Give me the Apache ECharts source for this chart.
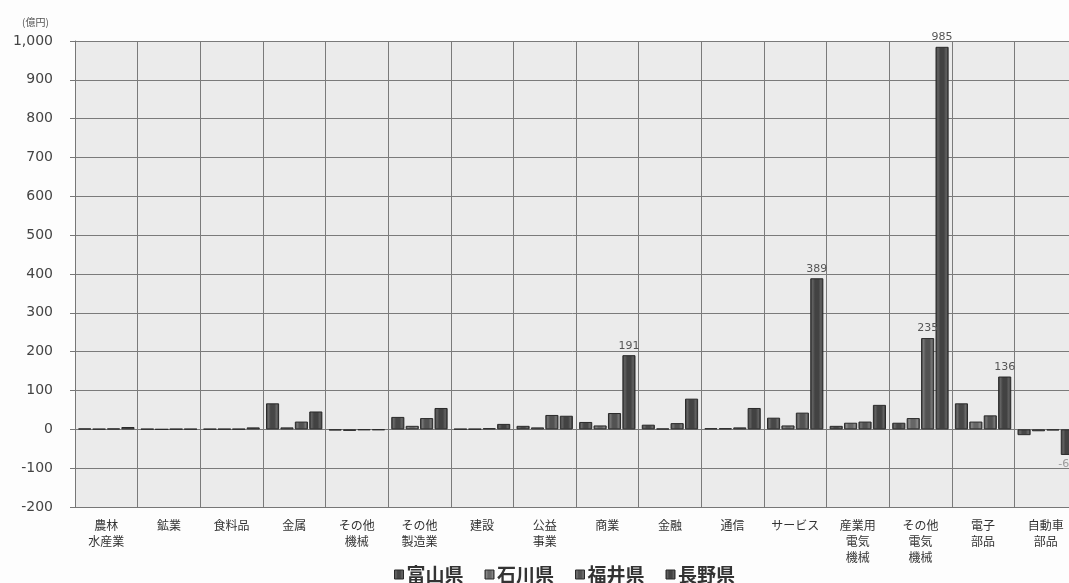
<!DOCTYPE html>
<html>
<head>
<meta charset="utf-8">
<script src="https://cdn.jsdelivr.net/npm/echarts@6/dist/echarts.min.js"></script>
<style>
  html, body { margin: 0; padding: 0; background: #fdfdfd; }
  #chart { width: 1069px; height: 583px; }
</style>
</head>
<body>
<div id="chart"></div>
<script>
// 業種別・県別の値（億円）
const categories = ['農林\n水産業', '鉱業', '食料品', '金属', 'その他\n機械', 'その他\n製造業', '建設', '公益\n事業', '商業', '金融', '通信', 'サービス', '産業用\n電気\n機械', 'その他\n電気\n機械', '電子\n部品', '自動車\n部品'];
const prefectures = ['富山県', '石川県', '福井県', '長野県'];
const toyama   = [2, 1, 1, 67, -3, 32, 1, 9, 19, 12, 3, 30, 9, 17, 67, -15];
const ishikawa = [1, 0, 1, 5, -4, 9, 1, 5, 10, 2, 3, 10, 17, 29, 20, -5];
const fukui    = [2, 1, 1, 20, -2, 29, 3, 37, 42, 16, 5, 43, 20, 235, 36, -3];
const nagano   = [6, 1, 5, 46, -2, 55, 14, 35, 191, 79, 55, 389, 63, 985, 136, -66];
// 値ラベルを表示する項目（カテゴリの添字）
const labeledFukui = [13];
const labeledNagano = [8, 11, 13, 14, 15];

const yTicks = { min: -200, max: 1000, interval: 100 };

const CJK = '"Noto Sans CJK JP", "Noto Sans", sans-serif';

function shade(edge, light, mid) {
  return {
    type: 'linear', x: 0, y: 0, x2: 1, y2: 0,
    colorStops: [
      { offset: 0, color: edge },
      { offset: 0.18, color: light },
      { offset: 0.36, color: mid },
      { offset: 0.64, color: mid },
      { offset: 0.82, color: light },
      { offset: 1, color: edge }
    ]
  };
}

const styles = [
  shade('#2f2f2f', '#6a6a6a', '#474747'),
  shade('#333333', '#8a8a8a', '#666666'),
  shade('#303030', '#767676', '#525252'),
  shade('#2c2c2c', '#626262', '#424242')
];

function withLabels(values, labeled) {
  return values.map((v, i) => {
    if (labeled.indexOf(i) < 0) return v;
    return {
      value: v,
      label: {
        show: true,
        position: v < 0 ? 'bottom' : 'top',
        color: v < 0 ? '#9a9a9a' : '#555',
        fontFamily: 'DejaVu Sans, sans-serif',
        fontSize: 11,
        distance: 4
      }
    };
  });
}

const seriesValues = [
  withLabels(toyama, []),
  withLabels(ishikawa, []),
  withLabels(fukui, labeledFukui),
  withLabels(nagano, labeledNagano)
];

const chart = echarts.init(document.getElementById('chart'), null, { renderer: 'canvas' });

chart.setOption({
  backgroundColor: '#fdfdfd',
  animation: false,
  title: {
    text: '(億円)',
    left: 17, top: 12,
    textStyle: { fontFamily: CJK, fontSize: 10, fontWeight: 'normal', color: '#555' }
  },
  legend: {
    data: prefectures.map((p, i) => ({ name: p, itemStyle: { color: styles[i], borderColor: '#2a2a2a', borderWidth: 1 } })),
    left: 389, top: 560,
    icon: 'rect',
    itemWidth: 9, itemHeight: 9,
    itemGap: 21,
    textStyle: { fontFamily: CJK, fontSize: 19, fontWeight: 'bold', color: '#333', padding: [0, 0, 0, -2] }
  },
  grid: {
    left: 75, top: 41, width: 1002, height: 466,
    outerBoundsMode: 'none',
    containLabel: false,
    show: true, backgroundColor: '#ebebeb', borderWidth: 0
  },
  xAxis: {
    type: 'category',
    data: categories,
    axisLine: { onZero: false, lineStyle: { color: '#777' } },
    axisTick: { show: false },
    splitLine: { show: true, interval: 0, lineStyle: { color: '#7a7a7a', width: 1 } },
    axisLabel: {
      interval: 0, margin: 10,
      fontFamily: CJK, fontSize: 12, lineHeight: 16, color: '#333'
    }
  },
  yAxis: {
    type: 'value',
    min: yTicks.min, max: yTicks.max, interval: yTicks.interval,
    axisLine: { show: true, lineStyle: { color: '#777' } },
    axisTick: { show: true, length: 5, lineStyle: { color: '#777' } },
    splitLine: { lineStyle: { color: '#7a7a7a', width: 1 } },
    axisLabel: {
      margin: 22,
      fontFamily: 'DejaVu Sans, sans-serif', fontSize: 14, color: '#444',
      formatter: v => v.toLocaleString('en-US')
    }
  },
  series: prefectures.map((name, i) => ({
    name: name,
    type: 'bar',
    data: seriesValues[i],
    barGap: '10%',
    barCategoryGap: '10%',
    itemStyle: { color: styles[i], borderColor: '#2a2a2a', borderWidth: 1 }
  }))
});
</script>
</body>
</html>
